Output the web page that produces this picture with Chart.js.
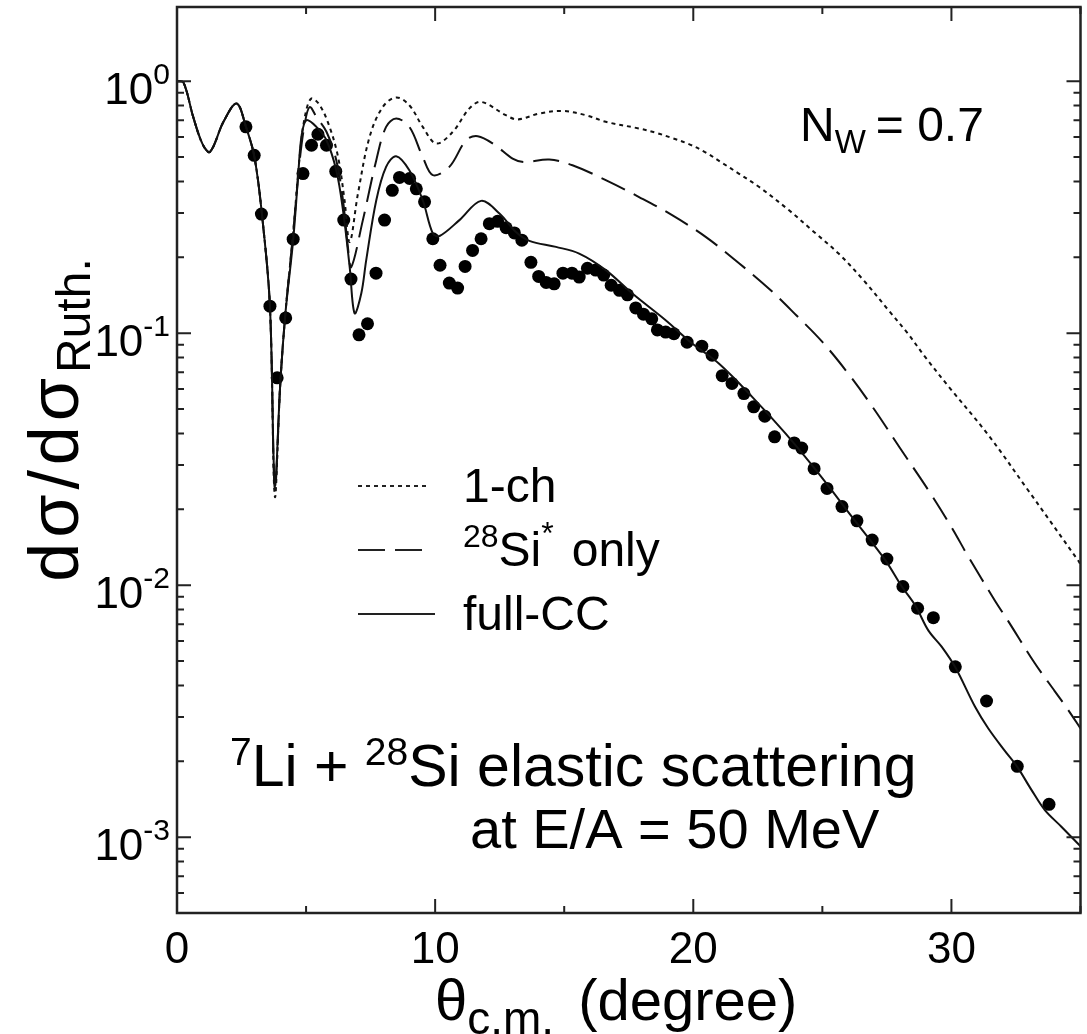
<!DOCTYPE html>
<html>
<head>
<meta charset="utf-8">
<script src="https://cdn.jsdelivr.net/npm/chart.js@4.4.1/dist/chart.umd.min.js"></script>
<style>
  body { margin: 0; background: #fff; }
</style>
</head>
<body>
<canvas id="xsChart" width="1087" height="1034"></canvas>
<script>
// measured angular distribution (filled circles)
let angleExp = [2.67, 2.99, 3.27, 3.60, 3.88, 4.21, 4.50, 4.88, 5.21, 5.46, 5.79, 6.15, 6.46, 6.74, 7.05, 7.38,
    7.71, 8.04, 8.34, 8.62, 9.01, 9.27, 9.59, 9.91, 10.19, 10.55, 10.87, 11.16, 11.45, 11.78, 12.10, 12.42,
    12.75, 13.07, 13.36, 13.71, 14.01, 14.30, 14.61, 14.95, 15.30, 15.58, 15.90, 16.22, 16.53, 16.82, 17.14,
    17.45, 17.77, 18.07, 18.39, 18.61, 18.93, 19.25, 19.76, 20.33, 20.73, 21.12, 21.50, 21.96, 22.34, 22.77,
    23.15, 23.91, 24.20, 24.68, 25.18, 25.76, 26.34, 26.93, 27.50, 28.12, 28.69, 29.30, 30.15, 31.36, 32.55, 33.78]
let sigmaExp = [0.659, 0.508, 0.297, 0.128, 0.0665, 0.115, 0.236, 0.430, 0.557, 0.616, 0.557, 0.439, 0.281, 0.164, 0.0985, 0.109,
    0.173, 0.281, 0.369, 0.415, 0.411, 0.374, 0.332, 0.237, 0.186, 0.158, 0.151, 0.184, 0.213, 0.237, 0.272, 0.278,
    0.262, 0.250, 0.234, 0.191, 0.168, 0.159, 0.157, 0.173, 0.173, 0.167, 0.181, 0.178, 0.170, 0.155, 0.148,
    0.142, 0.126, 0.119, 0.114, 0.103, 0.101, 0.0995, 0.0921, 0.0888, 0.0818, 0.0678, 0.0632, 0.0576, 0.0510, 0.0468,
    0.0388, 0.0367, 0.0350, 0.0290, 0.0242, 0.0205, 0.0180, 0.0151, 0.0127, 0.00988, 0.0081, 0.00743, 0.00474, 0.00347, 0.00191, 0.00135]

// 1-ch calculation (dotted)
let angle1ch = [0, 0.25, 0.63, 1.0, 1.28, 1.8, 2.31, 2.67, 3.0, 3.3, 3.6, 3.79, 4.0, 4.2, 4.5, 4.75, 4.95, 5.2, 5.53,
    5.91, 6.24, 6.49, 6.69, 7.01, 7.46, 7.97, 8.49, 9.0, 9.52, 10.04, 10.68, 11.33, 11.78, 12.74, 13.19, 14.03,
    14.93, 15.84, 16.61, 17.9, 18.54, 19.18, 19.83, 20.47, 21.12, 21.76, 22.54, 23.7, 24.7, 25.63, 26.6, 27.56,
    28.3, 28.98, 29.88, 31.43, 32.97, 34.9, 35]
let sigma1ch = [1.0, 0.99, 0.72, 0.56, 0.524, 0.69, 0.816, 0.66, 0.50, 0.29, 0.128, 0.0225, 0.063, 0.12, 0.25, 0.50, 0.72, 0.853, 0.803,
    0.659, 0.50, 0.337, 0.23, 0.358, 0.601, 0.79, 0.862, 0.803, 0.659, 0.566, 0.629, 0.78, 0.828, 0.733, 0.705, 0.744,
    0.762, 0.733, 0.69, 0.649, 0.625, 0.595, 0.563, 0.522, 0.474, 0.43, 0.381, 0.308, 0.251, 0.207, 0.162, 0.1234,
    0.100, 0.0805, 0.0616, 0.0394, 0.0238, 0.01256, 0.0121]

// 28Si* only (dashed)
let angleSi = [0, 0.25, 0.63, 1.0, 1.28, 1.8, 2.31, 2.67, 3.0, 3.3, 3.6, 3.79, 4.0, 4.2, 4.5, 4.75, 4.95, 5.14, 5.4,
    5.79, 6.17, 6.43, 6.62, 6.75, 7.2, 7.72, 8.1, 8.49, 9.0, 9.52, 9.91, 10.55, 11.2, 11.65, 12.3, 13.0, 13.45,
    14.42, 15.32, 16.61, 17.9, 19.18, 20.48, 21.76, 23.0, 24.0, 25.0, 26.0, 27.0, 28.0, 29.11, 30.0, 30.65,
    31.68, 32.2, 33.23, 34.0, 34.52, 35]
let sigmaSi = [1.0, 0.99, 0.72, 0.56, 0.524, 0.69, 0.816, 0.66, 0.50, 0.29, 0.128, 0.024, 0.063, 0.12, 0.25, 0.48, 0.68, 0.79, 0.722,
    0.63, 0.486, 0.337, 0.22, 0.183, 0.281, 0.486, 0.659, 0.711, 0.659, 0.50, 0.424, 0.457, 0.583, 0.605, 0.56, 0.493, 0.478,
    0.489, 0.464, 0.405, 0.347, 0.294, 0.241, 0.19, 0.148, 0.1175, 0.0923, 0.0692, 0.050, 0.0351, 0.0238, 0.017, 0.013,
    0.0087, 0.0072, 0.0049, 0.0038, 0.0032, 0.0027]

// full-CC (solid)
let angleCC = [0, 0.25, 0.63, 1.0, 1.28, 1.8, 2.31, 2.67, 3.0, 3.3, 3.6, 3.79, 4.0, 4.2, 4.5, 4.69, 4.82, 5.01, 5.4,
    5.79, 6.17, 6.43, 6.69, 6.88, 7.14, 7.33, 7.72, 8.1, 8.49, 9.0, 9.52, 9.91, 10.17, 10.94, 11.78, 12.49, 13.13,
    13.65, 14.68, 15.58, 16.61, 17.64, 18.93, 19.96, 20.99, 22.28, 23.57, 24.86, 26.14, 27.43, 28.07, 28.6, 29.11,
    29.62, 30.16, 30.91, 31.43, 32.07, 32.55, 33.1, 33.62, 34.26, 35]
let sigmaCC = [1.0, 0.99, 0.72, 0.56, 0.524, 0.69, 0.816, 0.66, 0.50, 0.29, 0.128, 0.025, 0.063, 0.12, 0.234, 0.417, 0.601, 0.70, 0.659,
    0.583, 0.443, 0.308, 0.183, 0.12, 0.144, 0.195, 0.337, 0.457, 0.504, 0.443, 0.337, 0.249, 0.243, 0.281, 0.335, 0.2985, 0.252,
    0.2325, 0.22, 0.207, 0.178, 0.1437, 0.1126, 0.091, 0.0758, 0.0559, 0.040, 0.0277, 0.0187, 0.0126, 0.0099, 0.0083, 0.0066,
    0.0057, 0.0047, 0.0033, 0.0027, 0.0022, 0.0019, 0.00154, 0.00128, 0.0011, 0.00092]

let xTickValues = [0, 10, 20, 30]
let xMinorValues = [5, 15, 25, 35]
let yTickExponents = [0, -1, -2, -3]

let FONT = "'Liberation Sans', Arial, sans-serif"

function toPoints(xs, ys) {
    return xs.map((x, i) => ({ x: x, y: ys[i] }))
}

// width of one text piece, with optional extra letter spacing (ls)
function pieceWidth(ctx, p) {
    ctx.font = p.size + 'px ' + FONT
    if (!p.ls) return ctx.measureText(p.t).width
    let w = 0
    for (let ch of p.t) w += ctx.measureText(ch).width + p.ls
    return w
}

// draws a run of text pieces (normal / sub / superscript) starting at x
function richText(ctx, x, y, parts, align) {
    let w = 0
    parts.forEach(p => {
        p.w = pieceWidth(ctx, p)
        w += p.w + (p.gap || 0)
    })
    let cx = x
    if (align === 'center') cx = x - w / 2
    if (align === 'right') cx = x - w
    parts.forEach(p => {
        ctx.font = p.size + 'px ' + FONT
        if (p.ls) {
            let lx = cx
            for (let ch of p.t) {
                ctx.fillText(ch, lx, y + (p.dy || 0))
                lx += ctx.measureText(ch).width + p.ls
            }
        } else {
            ctx.fillText(p.t, cx, y + (p.dy || 0))
        }
        cx += p.w + (p.gap || 0)
    })
}

let framePlugin = {
    id: 'framePlugin',
    afterDraw(chart) {
        let ctx = chart.ctx
        let a = chart.chartArea
        let xs = chart.scales.x
        let ys = chart.scales.y
        ctx.save()
        ctx.strokeStyle = '#222'
        ctx.fillStyle = '#000'
        ctx.lineWidth = 2.5
        ctx.strokeRect(a.left, a.top, a.right - a.left, a.bottom - a.top)

        // inward ticks on all four sides
        ctx.lineWidth = 2
        ctx.beginPath()
        xTickValues.forEach(v => {
            let px = xs.getPixelForValue(v)
            ctx.moveTo(px, a.bottom); ctx.lineTo(px, a.bottom - 14)
            ctx.moveTo(px, a.top); ctx.lineTo(px, a.top + 14)
        })
        xMinorValues.forEach(v => {
            let px = xs.getPixelForValue(v)
            ctx.moveTo(px, a.bottom); ctx.lineTo(px, a.bottom - 7)
            ctx.moveTo(px, a.top); ctx.lineTo(px, a.top + 7)
        })
        for (let e = -4; e <= 0; e++) {
            for (let m = 1; m <= 9; m++) {
                let v = m * Math.pow(10, e)
                if (v < ys.min || v > ys.max) continue
                let py = ys.getPixelForValue(v)
                let len = m === 1 ? 14 : 7
                ctx.moveTo(a.left, py); ctx.lineTo(a.left + len, py)
                ctx.moveTo(a.right, py); ctx.lineTo(a.right - len, py)
            }
        }
        ctx.stroke()

        // tick labels
        ctx.textBaseline = 'alphabetic'
        ctx.textAlign = 'left'
        xTickValues.forEach(v => {
            richText(ctx, xs.getPixelForValue(v), a.bottom + 50, [{ t: String(v), size: 44 }], 'center')
        })
        yTickExponents.forEach(e => {
            let py = ys.getPixelForValue(Math.pow(10, e))
            richText(ctx, 170, py + 23, [
                { t: '10', size: 44 },
                { t: String(e), size: 30, dy: -20 }
            ], 'right')
        })

        // axis titles
        richText(ctx, 435, 1020, [
            { t: 'θ', size: 58 },
            { t: 'c.m.', size: 46, dy: 14, gap: 24 },
            { t: '(degree)', size: 58 }
        ], 'left')
        ctx.save()
        ctx.translate(78, 420)
        ctx.rotate(-Math.PI / 2)
        richText(ctx, 0, 0, [
            { t: 'dσ/dσ', size: 70, ls: 5 },
            { t: 'Ruth.', size: 48, dy: 12 }
        ], 'center')
        ctx.restore()

        // annotations
        richText(ctx, 800, 141, [
            { t: 'N', size: 48 },
            { t: 'W', size: 33, dy: 12, gap: 10 },
            { t: '= 0.7', size: 48 }
        ], 'left')
        richText(ctx, 230, 786, [
            { t: '7', size: 39, dy: -21 },
            { t: 'Li + ', size: 59 },
            { t: '28', size: 39, dy: -21 },
            { t: 'Si elastic scattering', size: 59 }
        ], 'left')
        richText(ctx, 470, 848, [{ t: 'at E/A = 50 MeV', size: 56 }], 'left')

        // legend
        let legendRows = [
            { y: 486, x2: 428, dash: [4, 4], parts: [{ t: '1-ch', size: 48 }] },
            { y: 550, x2: 422, dash: [27, 10], parts: [
                { t: '28', size: 32, dy: -19 }, { t: 'Si', size: 48 },
                { t: '*', size: 32, dy: -22, gap: 18 }, { t: 'only', size: 48 }] },
            { y: 614, x2: 435, dash: [], parts: [{ t: 'full-CC', size: 48 }] }
        ]
        legendRows.forEach(r => {
            ctx.setLineDash(r.dash)
            ctx.lineWidth = 2
            ctx.beginPath()
            ctx.moveTo(358, r.y); ctx.lineTo(r.x2, r.y)
            ctx.stroke()
            ctx.setLineDash([])
            richText(ctx, 463, r.y + 16, r.parts, 'left')
        })
        ctx.restore()
    }
}

let ctx = document.getElementById('xsChart').getContext('2d')
let xsChart = new Chart(ctx, {
    type: 'line',
    data: {
        datasets: [{
            label: '1-ch',
            data: toPoints(angle1ch, sigma1ch),
            borderColor: '#111',
            borderWidth: 2,
            borderDash: [4, 4],
            pointRadius: 0,
            tension: 0.35
        }, {
            label: '28Si* only',
            data: toPoints(angleSi, sigmaSi),
            borderColor: '#111',
            borderWidth: 2,
            borderDash: [26, 10],
            pointRadius: 0,
            tension: 0.35
        }, {
            label: 'full-CC',
            data: toPoints(angleCC, sigmaCC),
            borderColor: '#111',
            borderWidth: 2,
            pointRadius: 0,
            tension: 0.35
        }, {
            label: 'exp',
            data: toPoints(angleExp, sigmaExp),
            showLine: false,
            pointRadius: 6.5,
            pointBackgroundColor: '#000',
            pointBorderWidth: 0
        }]
    },
    options: {
        responsive: false,
        animation: false,
        layout: {
            padding: { left: 177, right: 5, top: 7, bottom: 121 }
        },
        plugins: {
            legend: { display: false },
            tooltip: { enabled: false }
        },
        scales: {
            x: {
                type: 'linear',
                min: 0,
                max: 35,
                grid: { display: false, drawTicks: false },
                border: { display: false },
                ticks: { display: false }
            },
            y: {
                type: 'logarithmic',
                min: 0.0005,
                max: 1.97,
                grid: { display: false, drawTicks: false },
                border: { display: false },
                ticks: { display: false }
            }
        }
    },
    plugins: [framePlugin]
})
</script>
</body>
</html>
